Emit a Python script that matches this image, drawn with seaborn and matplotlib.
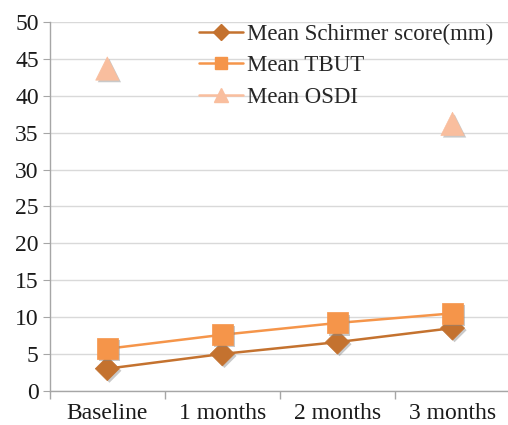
import matplotlib
matplotlib.use('Agg')
import matplotlib.pyplot as plt
import matplotlib.patheffects as pe
from matplotlib.lines import Line2D
import numpy as np
import pandas as pd
import seaborn as sns

months = ['Baseline', '1 months', '2 months', '3 months']
schirmer = [3.0, 5.0, 6.6, 8.5]
tbut = [5.7, 7.6, 9.2, 10.5]
osdi = [43.7, np.nan, np.nan, 36.2]

c_sch = '#C4722F'
c_tbut = '#F5954A'
c_osdi = '#F9BE9E'

sns.set_style('white')
plt.rcParams['font.family'] = ['Liberation Serif', 'DejaVu Serif']

df = pd.DataFrame({'month': months, 'Schirmer': schirmer, 'TBUT': tbut, 'OSDI': osdi})

fig = plt.figure(figsize=(5.08, 4.25), dpi=100)
ax = fig.add_axes([0.098, 0.0805, 0.906, 0.8675])

shadow = [pe.SimplePatchShadow(offset=(1.5, -1.5), shadow_rgbFace='#888888', alpha=0.45), pe.Normal()]

# lines
sns.lineplot(data=df, x='month', y='Schirmer', ax=ax, color=c_sch, lw=1.8, sort=False)
sns.lineplot(data=df, x='month', y='TBUT', ax=ax, color=c_tbut, lw=1.8, sort=False)

# markers
sns.scatterplot(data=df, x='month', y='Schirmer', ax=ax, color=c_sch, marker='D',
                s=150, edgecolor=c_sch, linewidth=0.5, zorder=3)
sns.scatterplot(data=df, x='month', y='TBUT', ax=ax, color=c_tbut, marker='s',
                s=230, edgecolor=c_tbut, linewidth=0.5, zorder=4)
osdi_df = df.dropna(subset=['OSDI'])
sns.scatterplot(data=osdi_df, x='month', y='OSDI', ax=ax, color=c_osdi, marker='^',
                s=280, edgecolor=c_osdi, linewidth=0.5, zorder=3)

for col in ax.collections:
    col.set_path_effects(shadow)

ax.set_xlim(-0.5, 3.5)
ax.set_ylim(0, 50)
ax.set_yticks(np.arange(0, 51, 5))
ax.set_xticks(range(len(months)))
ax.set_xticklabels(months)
ax.set_xticks(np.arange(-0.5, 3.6, 1), minor=True)
ax.tick_params(axis='x', which='major', length=0, labelsize=17, pad=9, labelcolor='#1a1a1a')
ax.tick_params(axis='x', which='minor', length=6, color='#A6A6A6', width=1, bottom=True)
ax.tick_params(axis='y', length=5, color='#A6A6A6', labelsize=17, pad=3, labelcolor='#1a1a1a', left=True)
ax.set_xlabel('')
ax.set_ylabel('')
ax.yaxis.grid(True, color='#D9D9D9', lw=1)
ax.set_axisbelow(True)
for s in ['top', 'right']:
    ax.spines[s].set_visible(False)
for s in ['left', 'bottom']:
    ax.spines[s].set_color('#A6A6A6')
    ax.spines[s].set_linewidth(1)

handles = [
    Line2D([], [], color=c_sch, lw=1.8, marker='D', markersize=8, markeredgecolor=c_sch),
    Line2D([], [], color=c_tbut, lw=1.8, marker='s', markersize=9, markeredgecolor=c_tbut),
    Line2D([], [], color=c_osdi, lw=1.8, marker='^', markersize=10, markeredgecolor=c_osdi),
]
ax.legend(handles, ['Mean Schirmer score(mm)', 'Mean TBUT', 'Mean OSDI'],
          loc='upper left', bbox_to_anchor=(0.305, 1.02), frameon=False, fontsize=16.5,
          handlelength=1.9, handletextpad=0.2, labelspacing=0.45, borderaxespad=0)

fig.savefig('out.png', dpi=100)
